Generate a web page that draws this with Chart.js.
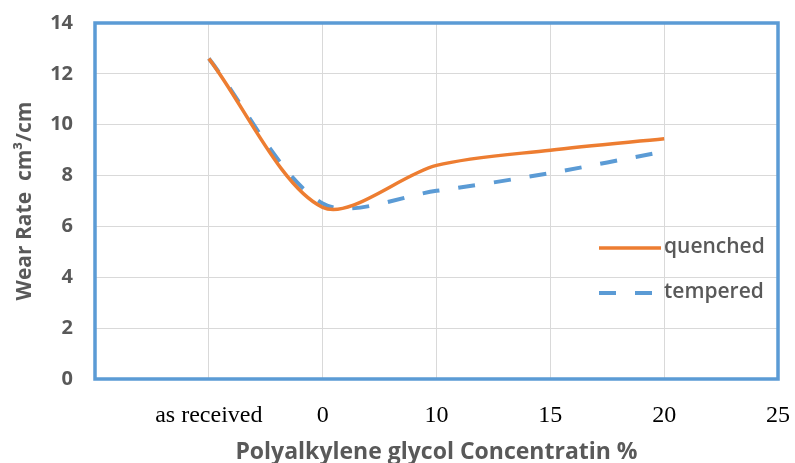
<!DOCTYPE html>
<html>
<head>
<meta charset="utf-8">
<script src="https://cdn.jsdelivr.net/npm/chart.js@4"></script>
<style>
  html, body { margin: 0; padding: 0; background: #fff; }
  #wrap { width: 795px; height: 463px; }
</style>
</head>
<body>
<div id="wrap"><canvas id="chart"></canvas></div>
<script>
const tickLabels = ['', 'as received', '0', '10', '15', '20', '25'];
const positions = [1, 2, 3, 4, 5];
const quenched = [12.6, 6.75, 8.4, 9.0, 9.45];
const tempered = [12.6, 6.9, 7.4, 8.1, 8.95];

const ORANGE = '#ed7d31';
const BLUE = '#5b9bd5';
const GREY = '#595959';

function toPoints(values) {
    return values.map((v, i) => ({ x: positions[i], y: v }));
}

// blue frame round the plot area and the legend inside it
const frameAndLegend = {
    id: 'frameAndLegend',
    afterDatasetsDraw(chart) {
        const ctx = chart.ctx;
        const a = chart.chartArea;
        ctx.save();
        ctx.strokeStyle = BLUE;
        ctx.lineWidth = 3.5;
        ctx.strokeRect(a.left, a.top, a.right - a.left, a.bottom - a.top);

        const items = [
            { ds: chart.data.datasets[0], y: 248 },
            { ds: chart.data.datasets[1], y: 293 }
        ];
        items.forEach(item => {
            ctx.beginPath();
            ctx.strokeStyle = item.ds.borderColor;
            ctx.lineWidth = item.ds.borderWidth;
            ctx.setLineDash(item.ds.borderDash || []);
            ctx.moveTo(599, item.y);
            ctx.lineTo(661, item.y);
            ctx.stroke();
            ctx.setLineDash([]);
            ctx.fillStyle = GREY;
            ctx.font = '600 21px "Open Sans"';
            ctx.textBaseline = 'middle';
            ctx.fillText(item.ds.label, 664, item.y - 1);
        });
        ctx.restore();
    }
};

new Chart(document.getElementById('chart'), {
    type: 'line',
    data: {
        datasets: [
            {
                label: 'quenched',
                data: toPoints(quenched),
                borderColor: ORANGE,
                borderWidth: 3.5,
                tension: 0.3,
                pointRadius: 0,
                fill: false
            },
            {
                label: 'tempered',
                data: toPoints(tempered),
                borderColor: BLUE,
                borderWidth: 4,
                borderDash: [17, 19],
                tension: 0.3,
                pointRadius: 0,
                fill: false
            }
        ]
    },
    options: {
        responsive: true,
        maintainAspectRatio: false,
        animation: false,
        layout: { padding: { top: 23, right: 17, left: 0, bottom: 0 } },
        plugins: {
            legend: { display: false },
            tooltip: { enabled: false }
        },
        scales: {
            x: {
                type: 'linear',
                min: 0,
                max: 6,
                afterFit: s => {
                    s.height = 84;
                    s.paddingLeft = 0;
                    s.paddingRight = 0;
                },
                ticks: {
                    stepSize: 1,
                    autoSkip: false,
                    maxRotation: 0,
                    padding: 22,
                    color: '#000',
                    font: { family: '"Liberation Serif"', size: 24 },
                    callback: v => tickLabels[v]
                },
                grid: { color: '#d9d9d9', drawTicks: false },
                border: { display: false },
                title: {
                    display: true,
                    text: 'Polyalkylene glycol Concentratin %',
                    color: GREY,
                    font: { family: '"Open Sans"', size: 23, weight: 'bold' },
                    padding: { top: 0, bottom: -3 }
                }
            },
            y: {
                min: 0,
                max: 14,
                afterFit: s => {
                    s.width = 95;
                    s.paddingTop = 0;
                    s.paddingBottom = 0;
                },
                ticks: {
                    stepSize: 2,
                    padding: 22,
                    color: GREY,
                    font: { family: '"Open Sans"', size: 20, weight: 'bold' }
                },
                grid: { color: '#d9d9d9', drawTicks: false },
                border: { display: false },
                title: {
                    display: true,
                    text: 'Wear Rate  cm³/cm',
                    color: GREY,
                    font: { family: '"Open Sans"', size: 21, weight: 'bold' },
                    padding: { top: 12, bottom: 0 }
                }
            }
        }
    },
    plugins: [frameAndLegend]
});
</script>
</body>
</html>
